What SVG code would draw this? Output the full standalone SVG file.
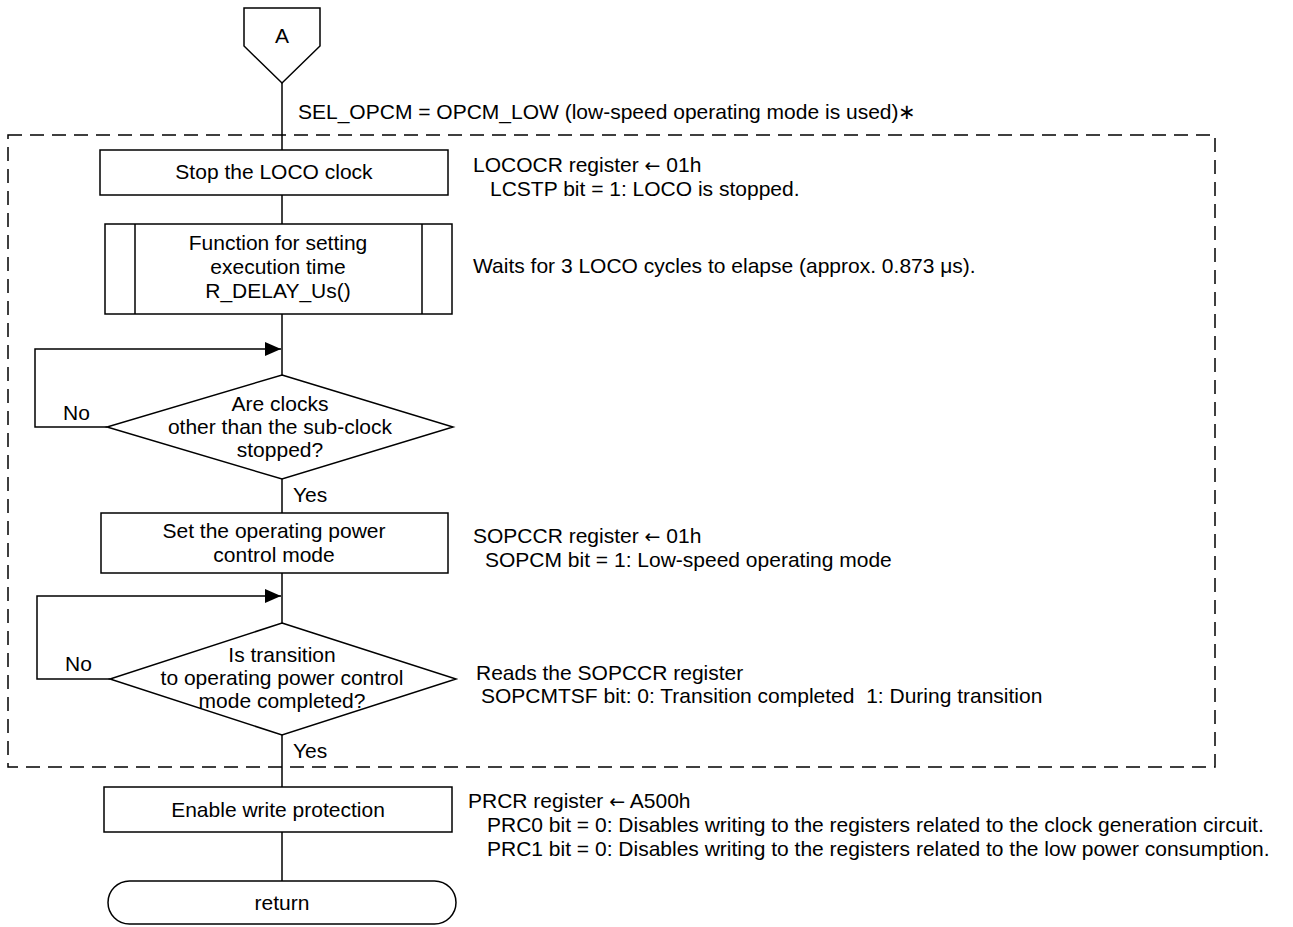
<svg xmlns="http://www.w3.org/2000/svg" width="1293" height="927" viewBox="0 0 1293 927">
<style>
text{font-family:"Liberation Sans",Arial,sans-serif;font-size:21px;fill:#000}
.c{text-anchor:middle}
.ar{font-family:"DejaVu Sans",sans-serif;font-size:19px}
.s{fill:#fff;stroke:#000;stroke-width:1.5}
.l{fill:none;stroke:#000;stroke-width:1.5}
.d{fill:none;stroke:#000;stroke-width:1.5;stroke-dasharray:14 8}
</style>
<defs>
<marker id="ah" markerWidth="16" markerHeight="14" refX="16" refY="7" orient="auto" markerUnits="userSpaceOnUse">
<path d="M0,0 L16,7 L0,14 Z" fill="#000"/>
</marker>
</defs>
<rect class="d" x="8" y="135" width="1207" height="632"/>
<g id="connectors">
<line class="l" x1="282" y1="83" x2="282" y2="150"/>
<line class="l" x1="282" y1="195" x2="282" y2="224"/>
<line class="l" x1="282" y1="314" x2="282" y2="375"/>
<line class="l" x1="282" y1="479" x2="282" y2="513"/>
<line class="l" x1="282" y1="573" x2="282" y2="623"/>
<line class="l" x1="282" y1="735" x2="282" y2="787"/>
<line class="l" x1="282" y1="832" x2="282" y2="881"/>
<polyline class="l" points="107,427 35,427 35,349 281,349" marker-end="url(#ah)"/>
<polyline class="l" points="110,679 37,679 37,596 281,596" marker-end="url(#ah)"/>
<text x="63" y="420">No</text>
<text x="293" y="502">Yes</text>
<text x="65" y="671">No</text>
<text x="293" y="758">Yes</text>
</g>
<g id="nodeA">
<polygon class="s" points="244,8 320,8 320,46 282,83 244,46"/>
<text class="c" x="282" y="43">A</text>
</g>
<text x="298" y="119">SEL_OPCM = OPCM_LOW (low-speed operating mode is used)∗</text>
<g id="stopLoco">
<rect class="s" x="100" y="150" width="348" height="45"/>
<text class="c" x="274" y="179">Stop the LOCO clock</text>
<text x="473" y="172">LOCOCR register <tspan class="ar">←</tspan> 01h</text>
<text x="490" y="196">LCSTP bit = 1: LOCO is stopped.</text>
</g>
<g id="delay">
<rect class="s" x="105" y="224" width="347" height="90"/>
<line class="l" x1="135" y1="224" x2="135" y2="314"/>
<line class="l" x1="422" y1="224" x2="422" y2="314"/>
<text class="c" x="278" y="250">Function for setting</text>
<text class="c" x="278" y="274">execution time</text>
<text class="c" x="278" y="298">R_DELAY_Us()</text>
<text x="473" y="273">Waits for 3 LOCO cycles to elapse (approx. 0.873 μs).</text>
</g>
<g id="decision1">
<polygon class="s" points="282,375 453,427 282,479 107,427"/>
<text class="c" x="280" y="411">Are clocks</text>
<text class="c" x="280" y="434">other than the sub-clock</text>
<text class="c" x="280" y="457">stopped?</text>
</g>
<g id="setMode">
<rect class="s" x="101" y="513" width="347" height="60"/>
<text class="c" x="274" y="538">Set the operating power</text>
<text class="c" x="274" y="562">control mode</text>
<text x="473" y="543">SOPCCR register <tspan class="ar">←</tspan> 01h</text>
<text x="485" y="567">SOPCM bit = 1: Low-speed operating mode</text>
</g>
<g id="decision2">
<polygon class="s" points="282,623 456,679 282,735 110,679"/>
<text class="c" x="282" y="662">Is transition</text>
<text class="c" x="282" y="685">to operating power control</text>
<text class="c" x="282" y="708">mode completed?</text>
<text x="476" y="680">Reads the SOPCCR register</text>
<text x="481" y="703">SOPCMTSF bit: 0: Transition completed &#160;1: During transition</text>
</g>
<g id="protect">
<rect class="s" x="104" y="787" width="348" height="45"/>
<text class="c" x="278" y="817">Enable write protection</text>
<text x="468" y="808">PRCR register <tspan class="ar">←</tspan> A500h</text>
<text x="487" y="832">PRC0 bit = 0: Disables writing to the registers related to the clock generation circuit.</text>
<text x="487" y="856">PRC1 bit = 0: Disables writing to the registers related to the low power consumption.</text>
</g>
<g id="return">
<rect class="s" x="108" y="881" width="348" height="43" rx="21.5"/>
<text class="c" x="282" y="910">return</text>
</g>
</svg>
